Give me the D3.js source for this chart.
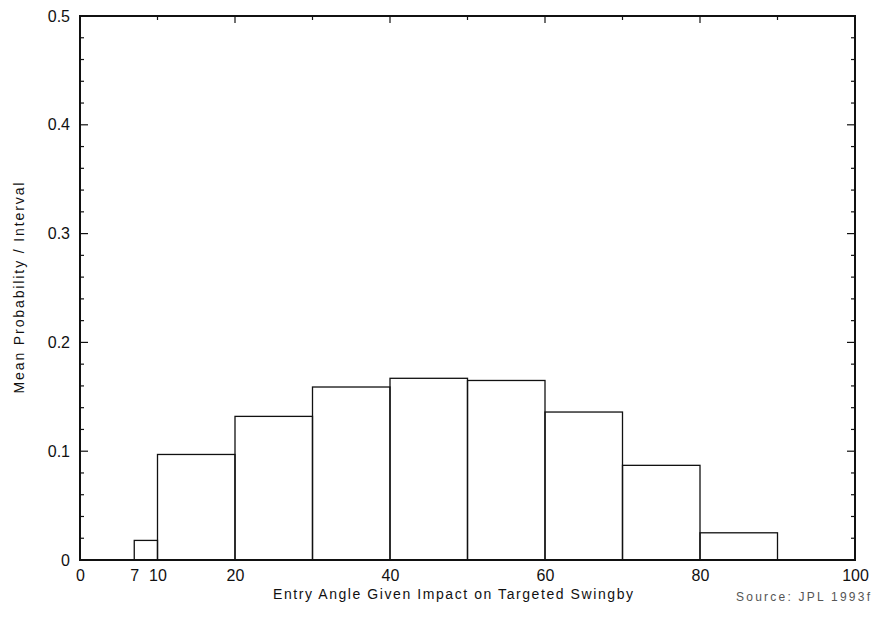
<!DOCTYPE html>
<html><head><meta charset="utf-8">
<script src="https://cdn.jsdelivr.net/npm/d3@7"></script>
<style>body{margin:0;background:#fff}svg{display:block}text{font-family:"Liberation Sans",Arial,sans-serif;fill:#111}</style>
</head><body><svg id="c" width="875" height="634"></svg>
<script>
const binStarts = [7, 10, 20, 30, 40, 50, 60, 70, 80];
const binEnds   = [10, 20, 30, 40, 50, 60, 70, 80, 90];
const meanProb  = [0.018, 0.097, 0.132, 0.159, 0.167, 0.165, 0.136, 0.087, 0.025];
const xTickLabels = [0, 7, 10, 20, 40, 60, 80, 100];
const yTickLabels = [0, 0.1, 0.2, 0.3, 0.4, 0.5];
const xTitle = "Entry Angle Given Impact on Targeted Swingby";
const yTitle = "Mean Probability / Interval";
const sourceNote = "Source: JPL 1993f";

const svg = d3.select("#c");
const L = 80, R = 855, T = 16, B = 560;
const x = d3.scaleLinear().domain([0, 100]).range([L, R]);
const y = d3.scaleLinear().domain([0, 0.5]).range([B, T]);
const ink = "#111";

// bars
const bars = binStarts.map((s, i) => ({s, e: binEnds[i], v: meanProb[i]}));
svg.append("g").selectAll("rect").data(bars).join("rect")
  .attr("x", d => x(d.s)).attr("y", d => y(d.v))
  .attr("width", d => x(d.e) - x(d.s)).attr("height", d => y(0) - y(d.v))
  .attr("fill", "none").attr("stroke", ink).attr("stroke-width", 1.3);

// frame
svg.append("rect").attr("x", L).attr("y", T).attr("width", R - L).attr("height", B - T)
  .attr("fill", "none").attr("stroke", ink).attr("stroke-width", 2);

// y ticks (left and right, inward)
const yMinor = d3.range(0, 0.5001, 0.02);
yMinor.forEach(v => {
  const major = Math.abs(v * 10 - Math.round(v * 10)) < 1e-6;
  const len = major ? 8 : 4;
  svg.append("line").attr("x1", L).attr("x2", L + len).attr("y1", y(v)).attr("y2", y(v))
    .attr("stroke", ink).attr("stroke-width", 1.2);
  svg.append("line").attr("x1", R).attr("x2", R - len).attr("y1", y(v)).attr("y2", y(v))
    .attr("stroke", ink).attr("stroke-width", 1.2);
});
// top ticks
d3.range(10, 100, 10).forEach(v => {
  const len = v % 20 === 0 ? 7 : 4;
  svg.append("line").attr("x1", x(v)).attr("x2", x(v)).attr("y1", T).attr("y2", T + len)
    .attr("stroke", ink).attr("stroke-width", 1.2);
});

// axes labels via d3 axes (no tick lines)
const yAxis = d3.axisLeft(y).tickValues(yTickLabels).tickSize(0).tickPadding(10)
  .tickFormat(d => d === 0 ? "0" : d3.format(".1f")(d));
const gy = svg.append("g").attr("transform", `translate(${L},0)`).call(yAxis);
gy.select(".domain").remove();
gy.selectAll("text").attr("font-size", 16).attr("fill", "#222").attr("font-family", null);

const xAxis = d3.axisBottom(x).tickValues(xTickLabels).tickSize(0).tickPadding(10);
const gx = svg.append("g").attr("transform", `translate(0,${B})`).call(xAxis);
gx.select(".domain").remove();
gx.selectAll("text").attr("font-size", 16).attr("fill", ink).attr("font-family", null);

// titles
svg.append("text").attr("x", 453).attr("y", 599).attr("text-anchor", "middle")
  .attr("font-size", 14).attr("textLength", 360).text(xTitle);
svg.append("text").attr("transform", "translate(24,288) rotate(-90)").attr("text-anchor", "middle")
  .attr("font-size", 14).attr("textLength", 211).text(yTitle);
svg.append("text").attr("x", 736).attr("y", 601).attr("font-size", 12)
  .attr("textLength", 134).style("fill", "#555").text(sourceNote);
</script></body></html>
